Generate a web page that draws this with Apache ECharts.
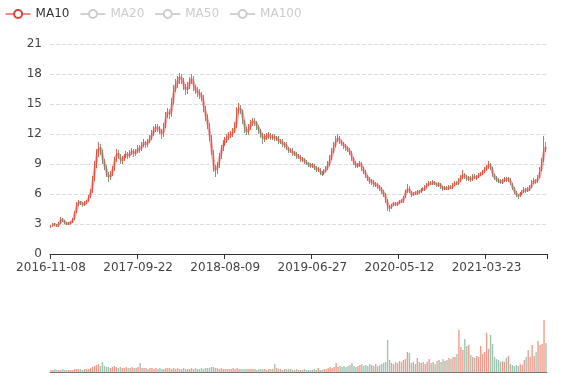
<!DOCTYPE html>
<html><head><meta charset="utf-8">
<script src="https://cdn.jsdelivr.net/npm/echarts@6/dist/echarts.min.js"></script>
<style>html,body{margin:0;padding:0;background:#fff}#main{width:577px;height:380px}</style>
</head><body><div id="main"></div>
<script>
const tickLabels = ['2016-11-08','2017-09-22','2018-08-09','2019-06-27','2020-05-12','2021-03-23'];
const legendNames = ['MA10','MA20','MA50','MA100'];

const openPrices = [
2.7,2.8,3.0,2.9,2.8,3.1,3.5,3.3,3.1,3.0,
3.1,3.2,3.5,4.2,5.0,5.2,5.1,4.9,5.1,5.3,
5.7,6.3,7.5,8.9,10.1,10.9,10.2,9.3,8.7,8.0,
7.6,8.0,8.5,9.4,10.2,9.8,9.3,9.5,9.8,10.0,
9.8,10.1,10.3,10.0,10.3,10.6,10.5,10.9,11.2,10.9,
11.3,11.6,12.1,12.5,12.7,12.5,12.3,11.9,12.8,13.9,
14.3,13.9,15.3,16.5,17.0,17.4,17.8,17.3,16.8,16.3,
16.8,17.3,17.6,16.6,16.4,16.1,15.9,15.7,14.5,13.7,
12.9,11.6,10.2,8.6,8.3,8.9,9.8,10.6,11.1,11.4,
11.7,11.9,12.0,12.3,12.8,14.3,14.7,14.2,13.2,12.4,
12.2,12.7,13.1,13.3,13.1,12.7,12.3,11.9,11.5,11.7,
11.8,11.9,11.6,11.8,11.5,11.6,11.2,11.3,10.9,11.0,
10.6,10.3,10.4,10.0,10.1,9.7,9.8,9.4,9.5,9.2,
9.1,8.9,8.8,8.9,8.6,8.4,8.5,8.1,8.0,8.3,
8.6,9.0,9.6,10.3,10.9,11.4,11.6,11.2,11.0,10.8,
10.6,10.4,10.1,9.5,9.1,8.8,8.9,9.1,8.5,8.2,
7.8,7.5,7.2,7.3,6.9,7.0,6.7,6.6,6.2,6.0,
5.4,4.7,4.6,4.9,5.1,4.9,5.1,5.3,5.2,5.7,
6.2,6.6,6.2,5.9,6.1,6.0,6.3,6.2,6.5,6.4,
6.7,6.9,7.1,7.0,7.2,7.0,6.9,7.0,6.7,6.5,
6.6,6.5,6.7,6.6,6.9,7.1,7.0,7.4,7.6,8.0,
7.7,7.5,7.6,7.4,7.8,7.6,7.7,7.9,8.0,8.2,
8.5,8.7,9.0,8.6,7.9,7.6,7.4,7.3,7.2,7.3,
7.5,7.4,7.5,7.0,6.6,6.2,5.9,5.8,6.1,6.2,
6.5,6.3,6.5,6.7,7.1,7.4,7.2,7.7,8.4,9.3,
10.9];
const closePrices = [
2.8,3.0,2.9,2.8,3.1,3.5,3.3,3.1,3.0,3.1,
3.2,3.5,4.2,5.0,5.2,5.1,4.9,5.1,5.3,5.7,
6.3,7.5,8.9,10.0,10.9,10.2,9.3,8.7,8.0,7.6,
8.0,8.5,9.4,10.2,9.8,9.3,9.5,9.8,10.0,9.8,
10.1,10.3,10.0,10.3,10.6,10.5,10.9,11.2,10.9,11.3,
11.6,12.1,12.5,12.7,12.5,12.3,11.9,12.8,13.9,14.3,
13.9,15.3,16.5,17.0,17.4,17.8,17.3,16.8,16.3,16.8,
17.3,17.6,16.6,16.4,16.1,15.9,15.7,14.5,13.7,12.9,
11.6,10.2,8.6,8.3,8.9,9.8,10.6,11.1,11.4,11.7,
11.9,12.0,12.3,12.8,14.3,14.7,14.2,13.2,12.4,12.2,
12.7,13.1,13.3,13.1,12.7,12.3,11.9,11.5,11.7,11.8,
11.9,11.6,11.8,11.5,11.6,11.2,11.3,10.9,11.0,10.6,
10.3,10.4,10.0,10.1,9.7,9.8,9.4,9.5,9.2,9.1,
8.9,8.8,8.9,8.6,8.4,8.5,8.1,8.0,8.3,8.6,
9.0,9.6,10.3,10.9,11.4,11.6,11.2,11.0,10.8,10.6,
10.4,10.1,9.5,9.1,8.8,8.9,9.1,8.5,8.2,7.8,
7.5,7.2,7.3,6.9,7.0,6.7,6.6,6.2,6.0,5.4,
4.7,4.6,4.9,5.1,4.9,5.1,5.3,5.2,5.7,6.2,
6.6,6.2,5.9,6.1,6.0,6.3,6.2,6.5,6.4,6.7,
6.9,7.1,7.0,7.2,7.0,6.9,7.0,6.7,6.5,6.6,
6.5,6.7,6.6,6.9,7.1,7.0,7.4,7.6,8.0,7.7,
7.5,7.6,7.4,7.8,7.6,7.7,7.9,8.0,8.2,8.5,
8.7,9.0,8.6,7.9,7.6,7.4,7.3,7.2,7.3,7.5,
7.4,7.5,7.0,6.6,6.2,5.9,5.8,6.1,6.2,6.5,
6.3,6.5,6.7,7.1,7.4,7.2,7.7,8.4,9.3,10.9,
10.5];
const lowPrices = [
2.6,2.7,2.8,2.7,2.7,3.0,3.2,3.0,2.9,2.9,
3.0,3.1,3.4,4.1,4.8,4.9,4.7,4.8,5.0,5.2,
5.6,6.1,7.3,8.6,9.7,9.9,9.0,8.4,7.7,7.2,
7.4,7.8,8.3,9.2,9.5,9.0,9.0,9.3,9.6,9.5,
9.6,9.9,9.7,9.8,10.1,10.1,10.3,10.7,10.6,10.7,
11.1,11.4,11.8,12.2,12.2,12.0,11.5,11.7,12.6,13.6,
13.5,13.7,15.0,16.2,16.6,17.0,17.0,16.4,15.9,16.0,
16.5,17.0,16.3,16.0,15.7,15.5,15.3,14.2,13.3,12.5,
11.3,9.9,8.2,7.7,8.0,8.6,9.5,10.3,10.8,11.1,
11.4,11.6,11.7,12.1,12.6,14.0,14.0,13.0,12.1,11.9,
11.9,12.4,12.8,12.8,12.4,12.0,11.6,11.0,11.2,11.4,
11.5,11.4,11.4,11.3,11.3,11.0,11.0,10.7,10.6,10.4,
10.1,10.1,9.8,9.8,9.5,9.5,9.2,9.2,9.0,8.9,
8.7,8.6,8.6,8.4,8.2,8.2,7.9,7.8,7.9,8.2,
8.4,8.8,9.4,10.1,10.7,11.2,11.0,10.8,10.5,10.3,
10.2,9.9,9.3,8.9,8.6,8.6,8.7,8.3,8.0,7.6,
7.3,7.0,6.9,6.7,6.7,6.5,6.3,6.0,5.7,5.1,
4.3,4.2,4.5,4.8,4.8,4.8,5.0,5.1,5.1,5.6,
6.1,6.1,5.7,5.8,5.9,5.9,6.0,6.1,6.3,6.3,
6.6,6.8,6.9,6.9,6.9,6.7,6.7,6.5,6.3,6.4,
6.4,6.4,6.5,6.5,6.8,6.9,6.9,7.2,7.5,7.5,
7.3,7.3,7.2,7.3,7.5,7.4,7.6,7.8,7.9,8.1,
8.3,8.5,8.4,7.7,7.4,7.2,7.1,7.0,7.0,7.2,
7.2,7.2,6.9,6.4,6.0,5.7,5.5,5.7,5.9,6.1,
6.1,6.2,6.3,6.6,7.0,7.0,7.1,7.6,8.3,9.2,
10.2];
const highPrices = [
2.9,3.1,3.1,3.0,3.2,3.7,3.6,3.4,3.2,3.2,
3.3,3.6,4.3,5.2,5.4,5.3,5.2,5.3,5.4,5.9,
6.5,7.8,9.3,10.5,11.2,11.0,10.4,9.5,8.9,8.2,
8.3,8.8,9.7,10.5,10.4,10.0,9.8,10.0,10.3,10.2,
10.4,10.6,10.5,10.5,10.9,10.9,11.2,11.5,11.3,11.5,
11.9,12.4,12.8,13.0,13.0,12.8,12.5,13.1,14.2,14.6,
14.5,15.6,16.9,17.5,17.8,18.1,18.0,17.6,17.0,17.2,
17.7,18.0,17.8,16.9,16.7,16.5,16.2,15.9,14.8,14.0,
13.1,11.9,10.4,8.9,9.2,10.1,10.9,11.4,11.7,12.0,
12.2,12.3,12.6,13.2,14.7,15.1,14.9,14.4,13.4,12.7,
13.0,13.4,13.6,13.6,13.3,12.9,12.5,12.1,12.0,12.1,
12.2,12.1,12.0,12.0,11.8,11.8,11.5,11.5,11.2,11.2,
10.7,10.6,10.6,10.3,10.2,10.0,9.9,9.7,9.6,9.4,
9.2,9.1,9.1,9.0,8.8,8.7,8.6,8.3,8.5,8.8,
9.3,9.9,10.6,11.2,11.8,12.0,11.8,11.4,11.2,11.0,
10.8,10.6,10.3,9.7,9.3,9.1,9.3,9.2,8.7,8.4,
7.9,7.7,7.5,7.4,7.2,7.1,6.9,6.7,6.4,6.1,
5.5,4.9,5.0,5.2,5.2,5.2,5.4,5.5,5.8,6.4,
7.0,6.8,6.3,6.2,6.3,6.4,6.4,6.6,6.7,6.9,
7.1,7.3,7.3,7.4,7.3,7.1,7.2,7.1,6.8,6.8,
6.8,6.9,6.9,7.1,7.3,7.3,7.6,7.9,8.4,8.1,
7.9,7.8,7.8,8.0,8.0,7.9,8.1,8.2,8.4,8.7,
8.9,9.3,9.1,8.7,8.0,7.8,7.6,7.5,7.5,7.7,
7.7,7.7,7.6,7.1,6.7,6.3,6.0,6.2,6.4,6.7,
6.6,6.7,6.9,7.4,7.6,7.5,7.9,8.7,9.6,11.8,
11.2];
const volumes = [
2,2,3,2,2,2,3,2,2,2,2,2,3,3,3,3,2,3,3,3,
4,5,6,7,8,6,10,6,5,5,4,5,6,5,4,5,4,4,5,4,
4,5,4,4,5,9,4,4,4,3,4,4,3,4,3,4,3,3,4,4,
4,3,4,3,4,3,3,4,3,3,3,4,3,4,3,3,4,3,4,4,
4,5,5,4,4,3,4,3,3,3,3,3,4,3,4,3,3,3,3,3,
3,3,3,3,2,3,3,3,3,2,3,3,3,8,4,3,3,2,3,3,
3,3,2,2,3,2,2,2,3,2,2,2,2,3,2,4,2,2,3,3,
4,5,4,5,9,5,6,5,6,5,6,7,9,6,5,6,7,8,6,7,
6,8,7,6,8,6,7,8,9,10,32,12,9,8,10,9,11,10,12,13,
20,19,9,10,8,14,10,9,10,8,10,13,9,10,8,11,12,10,13,11,
12,14,13,15,15,18,42,25,22,33,26,27,17,15,14,16,15,26,18,20,
39,23,37,28,15,13,12,10,11,10,14,16,8,7,6,7,6,8,7,12,
15,22,15,27,16,20,31,27,28,52,29];

const upColor = '#e4563f';
const downColor = '#5e9d78';

// category dates: 44 categories between consecutive tick labels
const SEG = 44;
const MS = 86400000;
function parseD(s){const p=s.split('-').map(Number);return Date.UTC(p[0],p[1]-1,p[2]);}
function fmtD(t){const d=new Date(t);return d.getUTCFullYear()+'-'+String(d.getUTCMonth()+1).padStart(2,'0')+'-'+String(d.getUTCDate()).padStart(2,'0');}
const dates = [];
for (let k=0;k<tickLabels.length;k++){
  const t0=parseD(tickLabels[k]);
  const t1 = k+1<tickLabels.length ? parseD(tickLabels[k+1]) : t0 + SEG*7*MS;
  for (let j=0;j<SEG && dates.length<closePrices.length;j++){
    dates.push(j===0?tickLabels[k]:fmtD(t0+Math.round(j*(t1-t0)/SEG/MS)*MS));
  }
}

const candles = closePrices.map((c,i)=>[openPrices[i],c,lowPrices[i],highPrices[i]]);
const volData = volumes.map((v,i)=>({value:v,itemStyle:{color: closePrices[i]>=openPrices[i]?upColor:downColor}}));

// each category ~ 5 trading days, so a 10-day MA spans 2 categories
function calcMA(n){
  const out=[];
  for(let i=0;i<closePrices.length;i++){
    if(i<n-1){out.push('-');continue;}
    let s=0;for(let j=0;j<n;j++)s+=closePrices[i-j];
    out.push(+(s/n).toFixed(3));
  }
  return out;
}
const maWindows = {MA10:2, MA20:4, MA50:10, MA100:20};
const maColors = {MA10:'#d9413b', MA20:'#5470c6', MA50:'#91cc75', MA100:'#fac858'};

const chart = echarts.init(document.getElementById('main'), null, {renderer:'canvas'});
chart.setOption({
  animation:false,
  textStyle:{fontFamily:'DejaVu Sans'},
  legend:{
    data:legendNames, left:0, top:3, itemGap:10, itemWidth:25, itemHeight:10,
    selected:{MA10:true,MA20:false,MA50:false,MA100:false},
    inactiveColor:'#ccc',
    textStyle:{color:'#333',fontSize:12},
    lineStyle:{opacity:1,width:1.2},
    itemStyle:{opacity:1}
  },
  grid:[
    {left:50,right:30,top:44,height:210},
    {left:50,right:30,top:300,height:72}
  ],
  xAxis:[
    {type:'category',data:dates,boundaryGap:true,
     axisLine:{lineStyle:{color:'#333'}},
     axisTick:{show:true,interval:43,lineStyle:{color:'#333'}},
     axisLabel:{interval:43,color:'#444',fontSize:12},
     splitLine:{show:false}},
    {type:'category',gridIndex:1,data:dates,boundaryGap:true,
     axisLine:{show:true,lineStyle:{color:'#777'}},
     axisTick:{show:false},axisLabel:{show:false},splitLine:{show:false}}
  ],
  yAxis:[
    {type:'value',min:0,max:21,interval:3,
     axisLine:{show:false},axisTick:{show:false},
     axisLabel:{color:'#444',fontSize:12},
     splitLine:{lineStyle:{type:'dashed',color:'#ddd'}}},
    {type:'value',gridIndex:1,min:0,max:72,
     axisLine:{show:false},axisTick:{show:false},axisLabel:{show:false},splitLine:{show:false}}
  ],
  series:[
    {name:'K',type:'candlestick',data:candles,barWidth:'60%',
     itemStyle:{color:upColor,color0:downColor,borderColor:upColor,borderColor0:downColor,opacity:0.9}},
    ...legendNames.map(n=>({name:n,type:'line',data:calcMA(maWindows[n]),smooth:true,
      showSymbol:false,symbol:'emptyCircle',color:maColors[n],
      lineStyle:{width:3,opacity:0.45}})),
    {name:'Volume',type:'bar',xAxisIndex:1,yAxisIndex:1,data:volData,itemStyle:{opacity:0.6}}
  ]
});
</script></body></html>
